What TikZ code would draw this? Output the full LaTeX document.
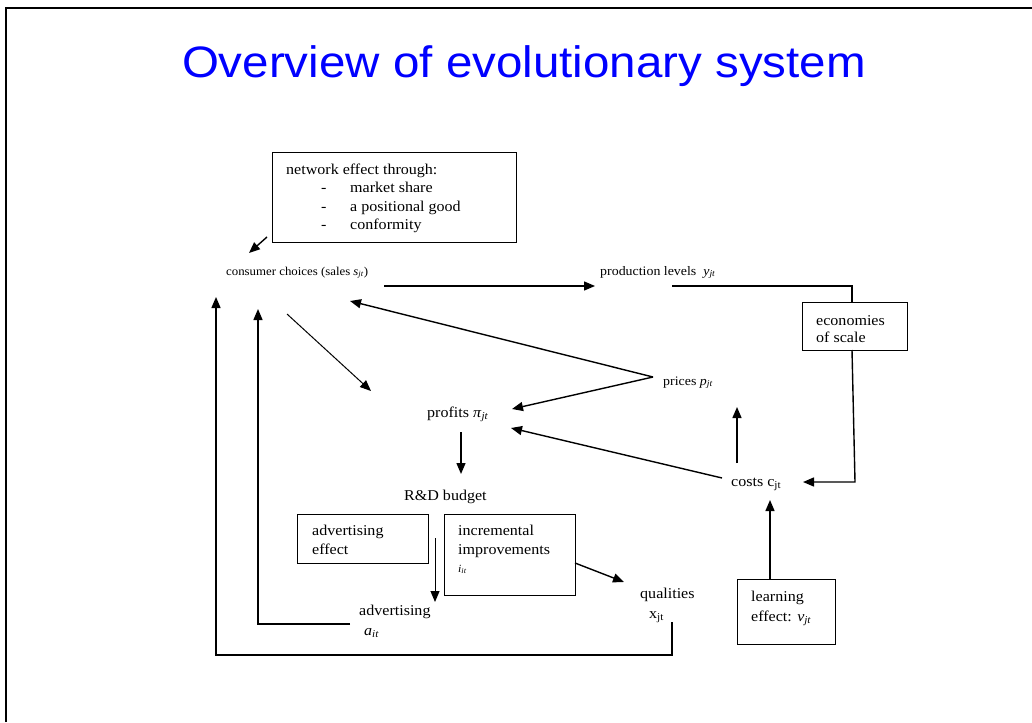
\documentclass[tikz,border=0pt]{standalone}
\usepackage{fontspec}
\setmainfont[FakeStretch=1.07]{Liberation Serif}
\newfontfamily\titlefont[FakeStretch=1.08]{Liberation Sans}
\usetikzlibrary{arrows.meta}
\newcommand\isub[2]{\textit{#1}\textsubscript{\textit{#2}}}
\newcommand\usub[2]{#1\textsubscript{#2}}
\begin{document}
\begin{tikzpicture}[x=1pt,y=-1pt,
  lbl/.style={anchor=base west, inner sep=0pt, font=\fontsize{15}{17}\selectfont},
  slbl/.style={anchor=base west, inner sep=0pt, font=\fontsize{12}{14}\selectfont},
  mlbl/.style={anchor=base west, inner sep=0pt, font=\fontsize{13}{15}\selectfont},
  boxn/.style={draw, line width=1pt, anchor=north west, inner sep=0pt},
  arr/.style={-{Triangle[length=11pt,width=9pt]}, line width=1.4pt},
  tarr/.style={-{Triangle[length=11pt,width=9pt]}, line width=1pt},
  ln/.style={line width=1.2pt}]
\useasboundingbox (0,0) rectangle (1032,722);
\draw[line width=2.5pt] (6,722) -- (6,8) -- (1032,8);

\node[anchor=base, inner sep=0pt, font=\titlefont\fontsize{44}{50}\selectfont, text=blue] (title) at (524,78) {Overview of evolutionary system};

% network effect box
\node[boxn, minimum width=244pt, minimum height=90pt] (net) at (272,152) {};
\node[lbl] (nt1) at (286,175) {network effect through:};
\node[lbl] (nd1) at (321,193) {-};
\node[lbl] (nd2) at (321,211) {-};
\node[lbl] (nd3) at (321,229) {-};
\node[lbl] (ni1) at (350,193) {market share};
\node[lbl] (ni2) at (350,211) {a positional good};
\node[lbl] (ni3) at (350,229) {conformity};

% labels
\node[slbl] (cons) at (226,275) {consumer choices (sales \isub{s}{jt})};
\node[mlbl] (prod) at (600,275) {production levels\ \ \isub{y}{jt}};
\node[mlbl] (price) at (663,385) {prices \isub{p}{jt}};
\node[lbl] (prof) at (427,417) {profits \isub{π}{jt}};
\node[lbl] (costs) at (731,486) {costs \usub{c}{jt}};
\node[lbl] (rd) at (404,500) {R\&D budget};
\node[lbl] (qual) at (640,598) {qualities};
\node[lbl] (qx) at (649,618) {\usub{x}{jt}};
\node[lbl] (adv) at (359,615) {advertising};
\node[lbl] (adva) at (364,635) {\isub{a}{it}};

% economies of scale box
\node[boxn, minimum width=105pt, minimum height=48pt] (eco) at (802,302) {};
\node[lbl] (eco1) at (816,325) {economies};
\node[lbl] (eco2) at (816,342) {of scale};

% learning effect box
\node[boxn, minimum width=98pt, minimum height=65pt] (learn) at (737,579) {};
\node[lbl] (le1) at (751,601) {learning};
\node[lbl] (le2) at (751,621) {effect: \isub{v}{jt}};

% advertising effect box
\node[boxn, minimum width=131pt, minimum height=49pt] (adeff) at (297,514) {};
\node[lbl] (ae1) at (312,535) {advertising};
\node[lbl] (ae2) at (312,554) {effect};

% incremental improvements box
\node[boxn, minimum width=131pt, minimum height=81pt] (incr) at (444,514) {};
\node[lbl] (in1) at (458,535) {incremental};
\node[lbl] (in2) at (458,554) {improvements};
\node[anchor=base west, inner sep=0pt, font=\fontsize{11}{13}\selectfont] (in3) at (458,572) {\isub{i}{it}};

% connector points
\coordinate (netS) at (267,237);
\coordinate (consN) at (249,253);
\coordinate (consE) at (384,286);
\coordinate (prodW) at (595,286);
\coordinate (prodE) at (672,286);
\coordinate (prodC) at (852,286);
\coordinate (ecoS) at (852,350);
\coordinate (ecoC) at (855,482);
\coordinate (costsE) at (803,482);
\coordinate (costsN) at (737,463);
\coordinate (priceS) at (737,407);
\coordinate (learnN) at (770,579);
\coordinate (costsS) at (770,500);
\coordinate (priceW) at (653,377);
\coordinate (consSE) at (350,301);
\coordinate (profE) at (512,409);
\coordinate (consS) at (287,314);
\coordinate (profNW) at (371,391);
\coordinate (costsW) at (722,478);
\coordinate (profE2) at (511,428);
\coordinate (profS) at (461,432);
\coordinate (rdN) at (461,474);
\coordinate (rdS) at (435,538);
\coordinate (advN) at (435,602);
\coordinate (incrE) at (575,563);
\coordinate (qualW) at (624,582);
\coordinate (qualS) at (672,622);
\coordinate (qualC) at (672,655);
\coordinate (outC) at (216,655);
\coordinate (consOut) at (216,297);
\coordinate (advW) at (350,624);
\coordinate (advC) at (258,624);
\coordinate (consIn) at (258,309);

% connectors
\draw[arr] (netS) -- (consN);
\draw[arr] (consE) -- (prodW);
\draw[ln] (prodE) -- (prodC) -- (eco.north -| prodC);
\draw[arr] (ecoS) -- (ecoC) -- (costsE);
\draw[arr] (costsN) -- (priceS);
\draw[arr] (learnN) -- (costsS);
\draw[arr] (priceW) -- (consSE);
\draw[arr] (priceW) -- (profE);
\draw[tarr] (consS) -- (profNW);
\draw[arr] (costsW) -- (profE2);
\draw[arr] (profS) -- (rdN);
\draw[tarr] (rdS) -- (advN);
\draw[arr] (incrE) -- (qualW);
\draw[arr] (qualS) -- (qualC) -- (outC) -- (consOut);
\draw[arr] (advW) -- (advC) -- (consIn);
\end{tikzpicture}
\end{document}
